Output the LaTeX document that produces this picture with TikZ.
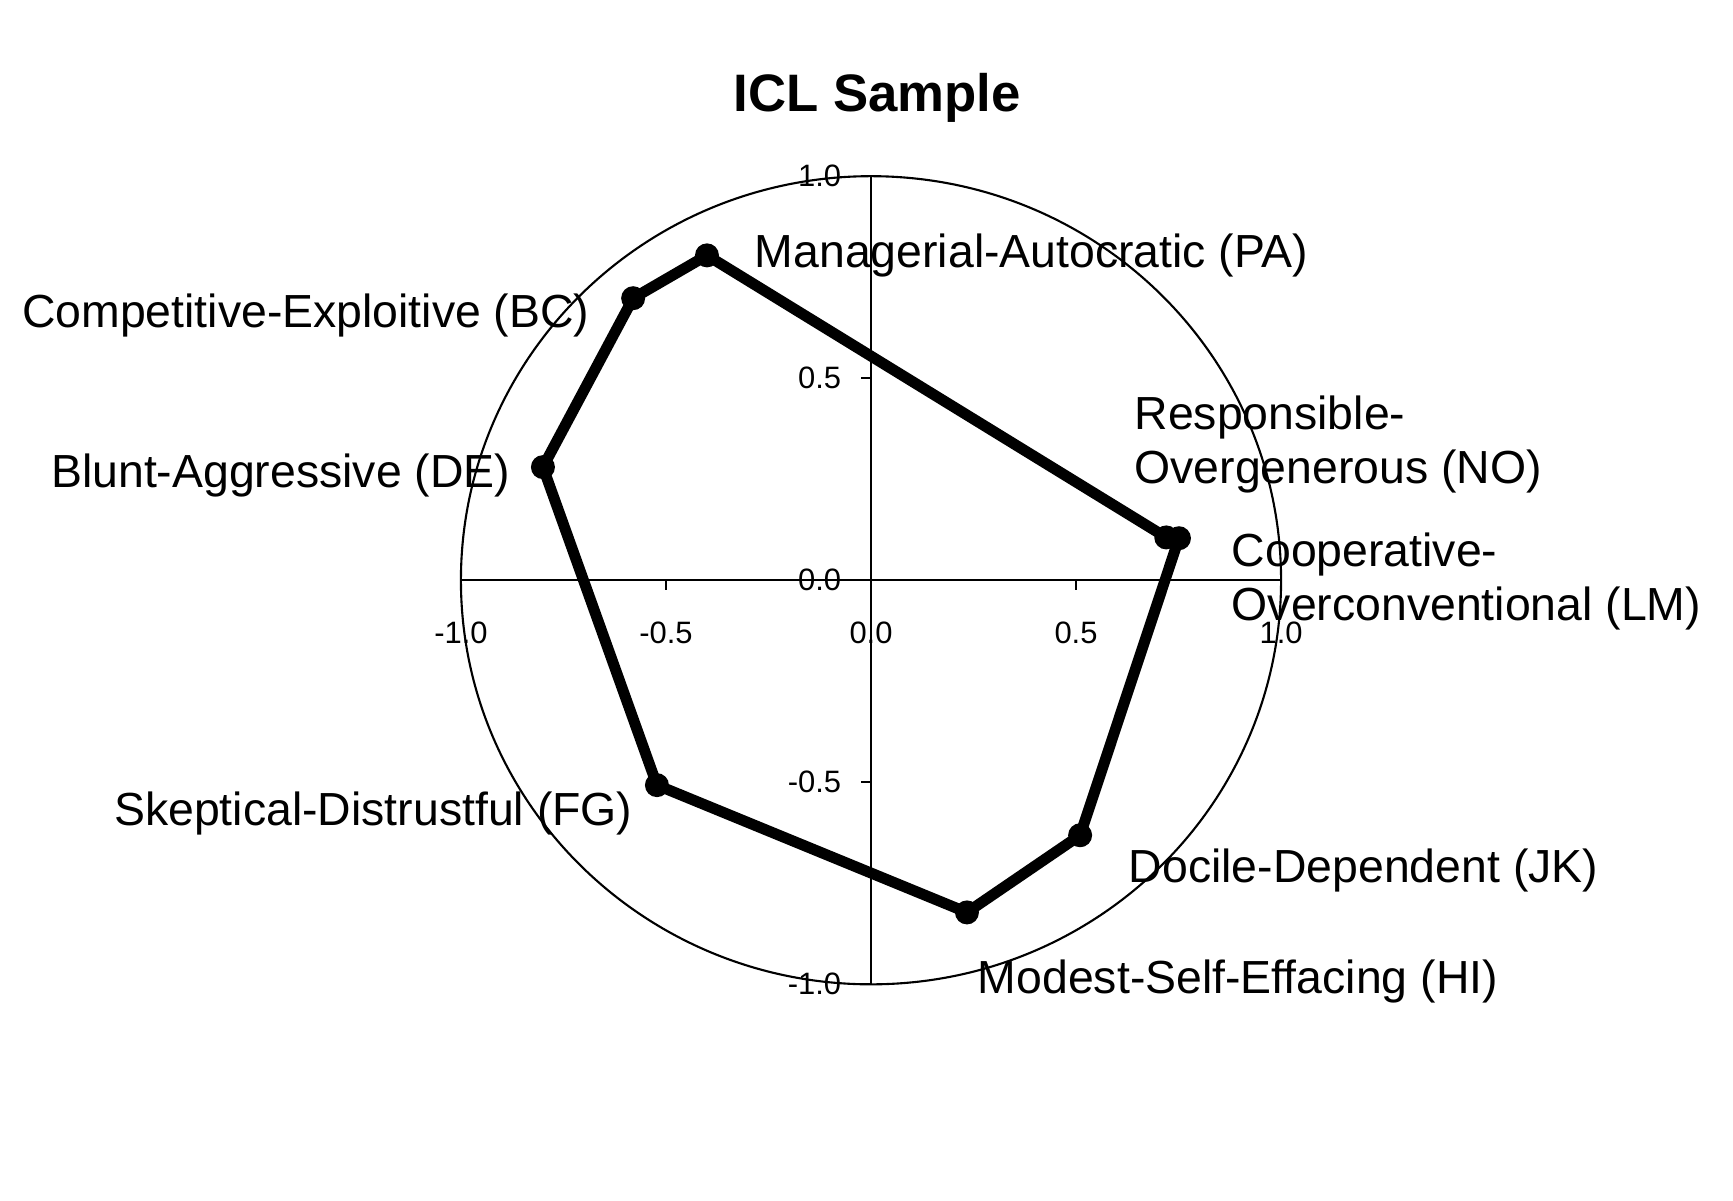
\documentclass[tikz,border=0pt]{standalone}
\usepackage{fontspec}
\setmainfont{Liberation Sans}
\begin{document}
\begin{tikzpicture}[x=4.1cm, y=4.04cm,
    dot/.style = {circle, fill, inner sep=0, minimum size=0.24cm},
    lbl/.style = {inner sep=0, font=\fontsize{13.2}{15.3}\selectfont},
    ticklbl/.style = {inner sep=0, font=\fontsize{8.8}{10}\selectfont}]
    \useasboundingbox (-2.124,-1.535) rectangle (2.102,1.436);

    \node[inner sep=0, anchor=base, font=\bfseries\fontsize{15}{18}\selectfont] (title) at (0.015,1.161) {ICL Sample};

    % frame and axes
    \draw[line width=0.6pt] (0,0) circle (1);
    \coordinate (xl) at (-1,0);
    \coordinate (xr) at (1,0);
    \coordinate (yt) at (0,1);
    \coordinate (yb) at (0,-1);
    \draw[line width=0.6pt] (xl) -- (xr);
    \draw[line width=0.6pt] (yt) -- (yb);
    \foreach \v/\t in {-1/-1.0, -0.5/-0.5, 0/0.0, 0.5/0.5, 1/1.0} {
      \draw[line width=0.6pt] (\v,0) -- (\v,-0.025);
      \draw[line width=0.6pt] (0,\v) -- (-0.024,\v);
      \node[ticklbl] (xt\t) at (\v,-0.129) {\t};
      \node[ticklbl, anchor=east] (yt\t) at (-0.071,\v) {\t};
    }

    % sample profile
    \node[dot] (PA) at (-0.400,0.804) {};
    \node[dot] (BC) at (-0.580,0.698) {};
    \node[dot] (DE) at (-0.800,0.280) {};
    \node[dot] (FG) at (-0.522,-0.507) {};
    \node[dot] (HI) at (0.234,-0.822) {};
    \node[dot] (JK) at (0.510,-0.631) {};
    \node[dot] (LM) at (0.751,0.104) {};
    \node[dot] (NO) at (0.720,0.106) {};

    \draw[line width=3.1pt, line join=round] (PA.center) -- (NO.center) -- (LM.center) -- (JK.center)
      -- (HI.center) -- (FG.center) -- (DE.center) -- (BC.center) -- cycle;

    \node[lbl, anchor=base west] (lPA) at (-0.285,0.775) {Managerial-Autocratic (PA)};
    \node[lbl, anchor=base east] (lBC) at (-0.685,0.626) {Competitive-Exploitive (BC)};
    \node[lbl, anchor=base east] (lDE) at (-0.878,0.230) {Blunt-Aggressive (DE)};
    \node[lbl, anchor=base east] (lFG) at (-0.580,-0.608) {Skeptical-Distrustful (FG)};
    \node[lbl, anchor=base west] (lHI) at (0.259,-1.022) {Modest-Self-Effacing (HI)};
    \node[lbl, anchor=base west] (lJK) at (0.627,-0.747) {Docile-Dependent (JK)};
    \node[lbl, anchor=base west, align=left] (lLM) at (0.878,-0.099) {Cooperative-\\Overconventional (LM)};
    \node[lbl, anchor=base west, align=left] (lNO) at (0.641,0.240) {Responsible-\\Overgenerous (NO)};
  \end{tikzpicture}
\end{document}
